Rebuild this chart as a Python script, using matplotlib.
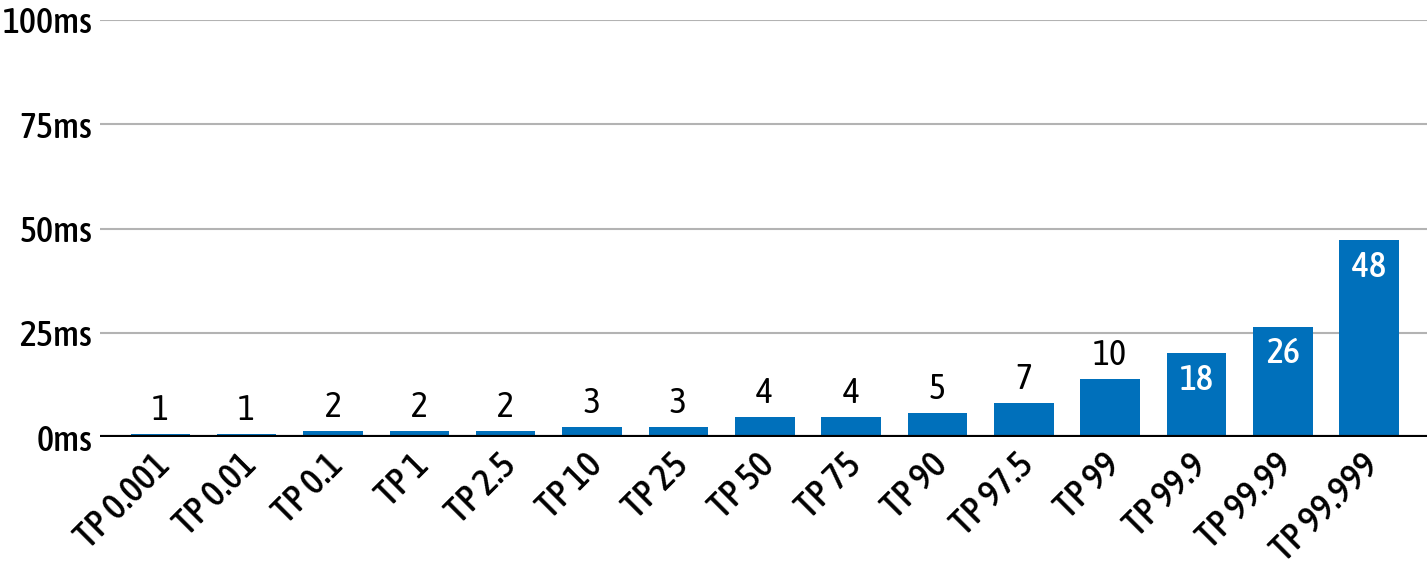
import matplotlib.pyplot as plt
from matplotlib import font_manager
from matplotlib.transforms import ScaledTranslation

# the reference uses a condensed humanist face; take the closest installed one
names = {f.name for f in font_manager.fontManager.ttflist}
preferred = ['Asap Condensed', 'Archivo Narrow', 'Liberation Sans Narrow', 'Roboto Condensed']
chosen = [n for n in preferred if n in names]
plt.rcParams['font.family'] = (chosen[:1] or ['Roboto']) + ['DejaVu Sans']
fs = 25

categories = ['TP 0.001', 'TP 0.01', 'TP 0.1', 'TP 1', 'TP 2.5', 'TP 10', 'TP 25',
              'TP 50', 'TP 75', 'TP 90', 'TP 97.5', 'TP 99', 'TP 99.9', 'TP 99.99', 'TP 99.999']
bar_values = [0.8, 0.8, 1.6, 1.6, 1.6, 2.4, 2.4, 4.8, 4.8, 5.9, 8.2, 14.0, 20.2, 26.5, 47.2]
labels = ['1', '1', '2', '2', '2', '3', '3', '4', '4', '5', '7', '10', '18', '26', '48']
y_ticks = [0, 25, 50, 75, 100]

fig = plt.figure(figsize=(14.27, 5.79), dpi=100)
ax = fig.add_axes([0.070, 0.2447, 0.930, 0.7208])

x = range(len(categories))
bars = ax.bar(x, bar_values, width=0.69, color='#0070bb', zorder=3)

for b, lab in zip(bars, labels):
    h = b.get_height()
    cx = b.get_x() + b.get_width() / 2
    if h > 18:
        ax.annotate(lab, (cx, h), xytext=(0, -7), textcoords='offset points',
                    ha='center', va='top', color='white', fontsize=fs + 1,
                    fontweight='medium', zorder=4)
    else:
        ax.annotate(lab, (cx, h), xytext=(0, 5), textcoords='offset points',
                    ha='center', va='bottom', color='black', fontsize=fs + 1,
                    zorder=4)

ax.set_xlim(-0.7, len(categories) - 1 + 0.67)
ax.set_ylim(0, 100)
ax.set_yticks(y_ticks)
ax.set_yticklabels([f'{t}ms' for t in y_ticks], fontsize=fs + 1, fontweight='medium')
ax.set_xticks(list(x))
ax.set_xticklabels(categories, rotation=45, ha='right', rotation_mode='anchor',
                   fontsize=27, fontweight='medium')
ax.tick_params(axis='both', length=0)
ax.tick_params(axis='y', pad=5.5)
ax.tick_params(axis='x', pad=7)

# nudge rotated labels a little left so they end near the bar centre
shift = ScaledTranslation(-8 / 100, 0, fig.dpi_scale_trans)
for t in ax.get_xticklabels():
    t.set_transform(t.get_transform() + shift)

ax.grid(axis='y', color='#b3b3b3', linewidth=1.5, zorder=0)
ax.axhline(0, color='black', linewidth=3, zorder=5)
for s in ax.spines.values():
    s.set_visible(False)

fig.savefig('out.png', dpi=100)
